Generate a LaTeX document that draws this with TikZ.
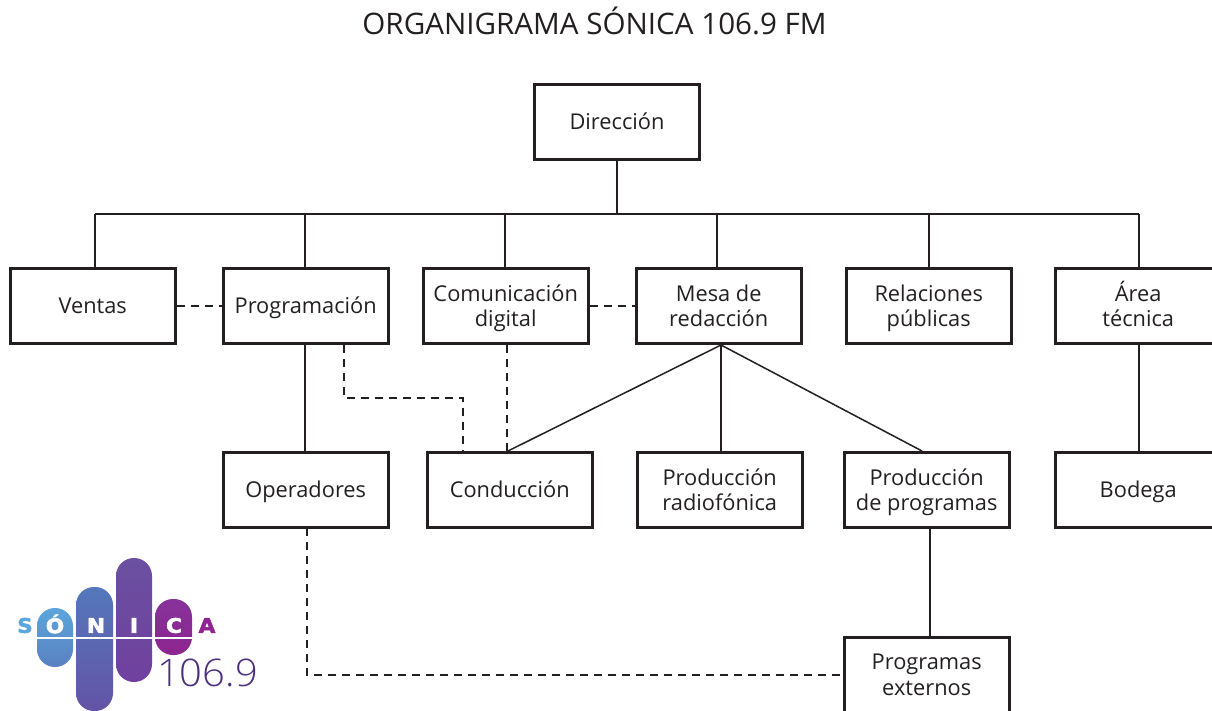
\documentclass[tikz,border=0pt]{standalone}
\usepackage{fontspec}
\setmainfont{Open Sans}
\newfontfamily\logofont[FakeBold=2.5]{DejaVu Sans Bold}
\newfontfamily\numfont{Open Sans Light}
\definecolor{ink}{HTML}{231F20}
\definecolor{lgA}{HTML}{5BA6DC}
\definecolor{lgB}{HTML}{5A80C2}
\definecolor{lgC}{HTML}{5478BC}
\definecolor{lgD}{HTML}{6353A5}
\definecolor{lgE}{HTML}{6A50A0}
\definecolor{lgF}{HTML}{70409E}
\definecolor{lgG}{HTML}{86329A}
\definecolor{lgH}{HTML}{8E2490}
\definecolor{lgN}{HTML}{4A2F7E}
\newcommand{\lnst}{\rule[-5pt]{0pt}{25pt}}
\tikzset{
  orgbox/.style={draw=ink,line width=3.4pt,rectangle,minimum width=165pt,minimum height=75pt,inner sep=0pt,align=center,font=\fontsize{21.8}{25}\selectfont,text=ink,anchor=north west},
  solidlink/.style={draw=ink,line width=1.5pt},
  dashlink/.style={draw=ink,line width=1.5pt,dash pattern=on 8pt off 6pt},
  logoletter/.style={font=\logofont\fontsize{20}{20}\selectfont,inner sep=0pt,xscale=1.08},
}
\begin{document}
\begin{tikzpicture}[x=1pt,y=-1pt]
\useasboundingbox (0,0) rectangle (1212,711);
\node[font=\fontsize{29.6}{34}\selectfont,text=ink] (title) at (594.5,21) {ORGANIGRAMA SÓNICA 106.9 FM};
\node[orgbox] (dir) at (532.8,83) {\lnst Dirección};
\node[orgbox] (ven) at (8.5,267) {\lnst Ventas};
\node[orgbox] (pro) at (221.5,267) {\lnst Programación};
\node[orgbox] (com) at (421.5,267) {\lnst Comunicación\\\lnst digital};
\node[orgbox] (mes) at (634.5,267) {\lnst Mesa de\\\lnst redacción};
\node[orgbox] (rel) at (844.5,267) {\lnst Relaciones\\\lnst públicas};
\node[orgbox] (are) at (1054,267) {\lnst Área\\\lnst técnica};
\node[orgbox] (ope) at (221.5,451) {\lnst Operadores};
\node[orgbox] (con) at (425.5,451) {\lnst Conducción};
\node[orgbox] (rad) at (635.5,451) {\lnst Producción\\\lnst radiofónica};
\node[orgbox] (ppr) at (842.5,451) {\lnst Producción\\\lnst de programas};
\node[orgbox] (bod) at (1054,451) {\lnst Bodega};
\node[orgbox] (ext) at (842.5,635.8) {\lnst Programas\\\lnst externos};
% bus
\coordinate (busL) at (95,214);
\coordinate (busR) at (1139,214);
\draw[solidlink] (dir.south) -- (dir.south |- busL);
\draw[solidlink,line cap=square] (busL) -- (busR);
\draw[solidlink] (busL) -- (busL |- ven.north);
\coordinate (b2) at (305,214); \draw[solidlink] (b2) -- (b2 |- pro.north);
\coordinate (b3) at (505,214); \draw[solidlink] (b3) -- (b3 |- com.north);
\coordinate (b4) at (717,214); \draw[solidlink] (b4) -- (b4 |- mes.north);
\coordinate (b5) at (929,214); \draw[solidlink] (b5) -- (b5 |- rel.north);
\draw[solidlink] (busR) -- (busR |- are.north);
\draw[solidlink] (b2 |- pro.south) -- (b2 |- ope.north);
\draw[solidlink] (busR |- are.south) -- (busR |- bod.north);
\coordinate (mesB) at (721,345);
\coordinate (conT) at (508,451);
\coordinate (radT) at (721,451);
\coordinate (pprT) at (922,451);
\draw[solidlink] (mesB) -- (conT);
\draw[solidlink] (mesB) -- (radT);
\draw[solidlink] (mesB) -- (pprT);
\coordinate (ppB) at (930,528);
\draw[solidlink] (ppB) -- (ppB |- ext.north);
% dashed
\draw[dashlink] (ven.east) -- (pro.west);
\draw[dashlink] (com.east) -- (mes.west);
\coordinate (d1) at (344,345);
\coordinate (d2) at (463,398);
\draw[dashlink] (d1) -- (d1 |- d2) -- (d2) -- (d2 |- con.north);
\coordinate (d3) at (507,345);
\draw[dashlink] (d3) -- (d3 |- con.north);
\coordinate (d4) at (307,528);
\draw[dashlink] (d4) -- (d4 |- ext.west) -- (ext.west);
% logo
\shade[top color=lgA,bottom color=lgB,rounded corners=17.9pt] (37,608) rectangle (73,667);
\shade[top color=lgC,bottom color=lgD,rounded corners=17.9pt] (76,587) rectangle (113,711);
\shade[top color=lgE,bottom color=lgF,rounded corners=17.9pt] (116,558) rectangle (152,682);
\shade[top color=lgG,bottom color=lgH,rounded corners=17.9pt] (155,599) rectangle (192,655);
\draw[white,line width=1.2pt] (37,638) -- (192,638);
\node[logoletter,text=lgA] (s) at (25,625.5) {S};
\node[logoletter,text=white] (o) at (55,624) {Ó};
\node[logoletter,text=white] (n) at (96,625.5) {N};
\node[logoletter,text=white] (i) at (134,625.5) {I};
\node[logoletter,text=white] (c) at (174,625.5) {C};
\node[logoletter,text=lgH] (a) at (207,625.5) {A};
\node[font=\numfont\fontsize{38}{38}\selectfont,text=lgN,inner sep=0pt,xscale=1.05] (num) at (207.5,673) {106.9};
\end{tikzpicture}
\end{document}
